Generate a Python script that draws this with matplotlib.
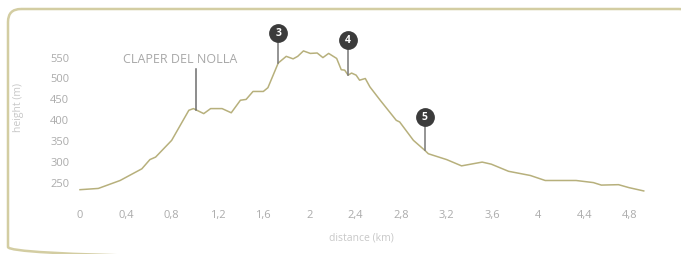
import numpy as np
import matplotlib
matplotlib.use("Agg")
import matplotlib.pyplot as plt
from matplotlib.patches import FancyBboxPatch

plt.rcParams["font.family"] = ["Open Sans", "DejaVu Sans"]

# elevation profile (km, m)
dist = [0, 0.16, 0.35, 0.54, 0.61, 0.66, 0.80, 0.95, 0.99, 1.08, 1.14, 1.24,
        1.32, 1.40, 1.45, 1.51, 1.60, 1.64, 1.73, 1.80, 1.86, 1.90, 1.95, 2.01,
        2.07, 2.12, 2.17, 2.24, 2.28, 2.31, 2.34, 2.37, 2.41, 2.44, 2.49, 2.53,
        2.62, 2.76, 2.79, 2.91, 3.01, 3.04, 3.20, 3.33, 3.51, 3.59, 3.74, 3.93,
        4.06, 4.33, 4.48, 4.55, 4.70, 4.79, 4.92]
height = [234, 237, 256, 284, 306, 312, 352, 424, 428, 416, 428, 428,
          418, 448, 450, 469, 469, 478, 537, 553, 547, 553, 566, 560,
          561, 550, 560, 548, 521, 520, 508, 513, 508, 496, 500, 480,
          448, 400, 396, 352, 328, 320, 306, 291, 300, 295, 278, 268,
          256, 256, 251, 245, 246, 239, 231]

x_ticks = [0, 0.4, 0.8, 1.2, 1.6, 2, 2.4, 2.8, 3.2, 3.6, 4, 4.4, 4.8]
x_tick_labels = ["0", "0,4", "0,8", "1,2", "1,6", "2", "2,4", "2,8", "3,2",
                 "3,6", "4", "4,4", "4,8"]
y_ticks = [250, 300, 350, 400, 450, 500, 550]

# waypoints: label, distance, height of the badge
waypoints = [("3", 1.73, 610), ("4", 2.34, 592), ("5", 3.01, 409)]
place_name = "CLAPER DEL NOLLA"
place_dist = 1.01

W, H = 681, 254
fig = plt.figure(figsize=(W / 100, H / 100), dpi=100)

# -----------------------------
# frame (runs off the right and bottom edges)
# -----------------------------
bg = fig.add_axes([0, 0, 1, 1])
bg.set_xlim(0, W)
bg.set_ylim(H, 0)
bg.axis("off")
bg.add_patch(FancyBboxPatch((8, 9), 684, 251,
                            boxstyle="round,pad=0,rounding_size=13",
                            fill=False, ec="#d3cda2", lw=1.8))

# -----------------------------
# profile axes (pixel layout)
# -----------------------------
L, R, T, B = 72, 650, 20, 195
ax = fig.add_axes([L / W, 1 - B / H, (R - L) / W, (B - T) / H])
px_per_km = 114.58
px_per_m = 0.418
ax.set_xlim((L - 80) / px_per_km, (R - 80) / px_per_km)
ax.set_ylim(250 - (B - 183) / px_per_m, 250 + (183 - T) / px_per_m)
ax.patch.set_alpha(0)
for s in ax.spines.values():
    s.set_visible(False)

ax.plot(dist, height, color="#b7b07c", lw=1.1, clip_on=False, zorder=3)

ax.set_xticks(x_ticks)
ax.set_xticklabels(x_tick_labels)
ax.set_yticks(y_ticks)
ax.tick_params(length=0, labelsize=8, labelcolor="#ababab")
ax.tick_params(axis="x", pad=11)
ax.tick_params(axis="y", pad=2)

ax.set_xlabel("distance (km)", fontsize=7.5, color="#c8c8c8", labelpad=8)
ax.set_ylabel("height (m)", fontsize=7.5, color="#c8c8c8", labelpad=19)

# place label
h_place = np.interp(place_dist, dist, height)
ax.plot([place_dist, place_dist], [h_place, 523], color="#6e6e6e", lw=1.1,
        clip_on=False, zorder=4)
ax.text(place_dist - 0.14, 545, place_name, fontsize=9, color="#a8a8a8",
        ha="center", va="center")

# numbered waypoints
for lab, d, hb in waypoints:
    h_curve = np.interp(d, dist, height)
    ax.plot([d, d], [h_curve, hb], color="#777777", lw=1.1, clip_on=False,
            zorder=4)
    ax.plot([d], [hb], "o", ms=12.5, color="#3b3b3b", clip_on=False, zorder=5)
    ax.text(d, hb - 1.5, lab, fontsize=7.5, color="white", fontweight="bold",
            ha="center", va="center", zorder=6)

fig.savefig("out.png", dpi=100)
